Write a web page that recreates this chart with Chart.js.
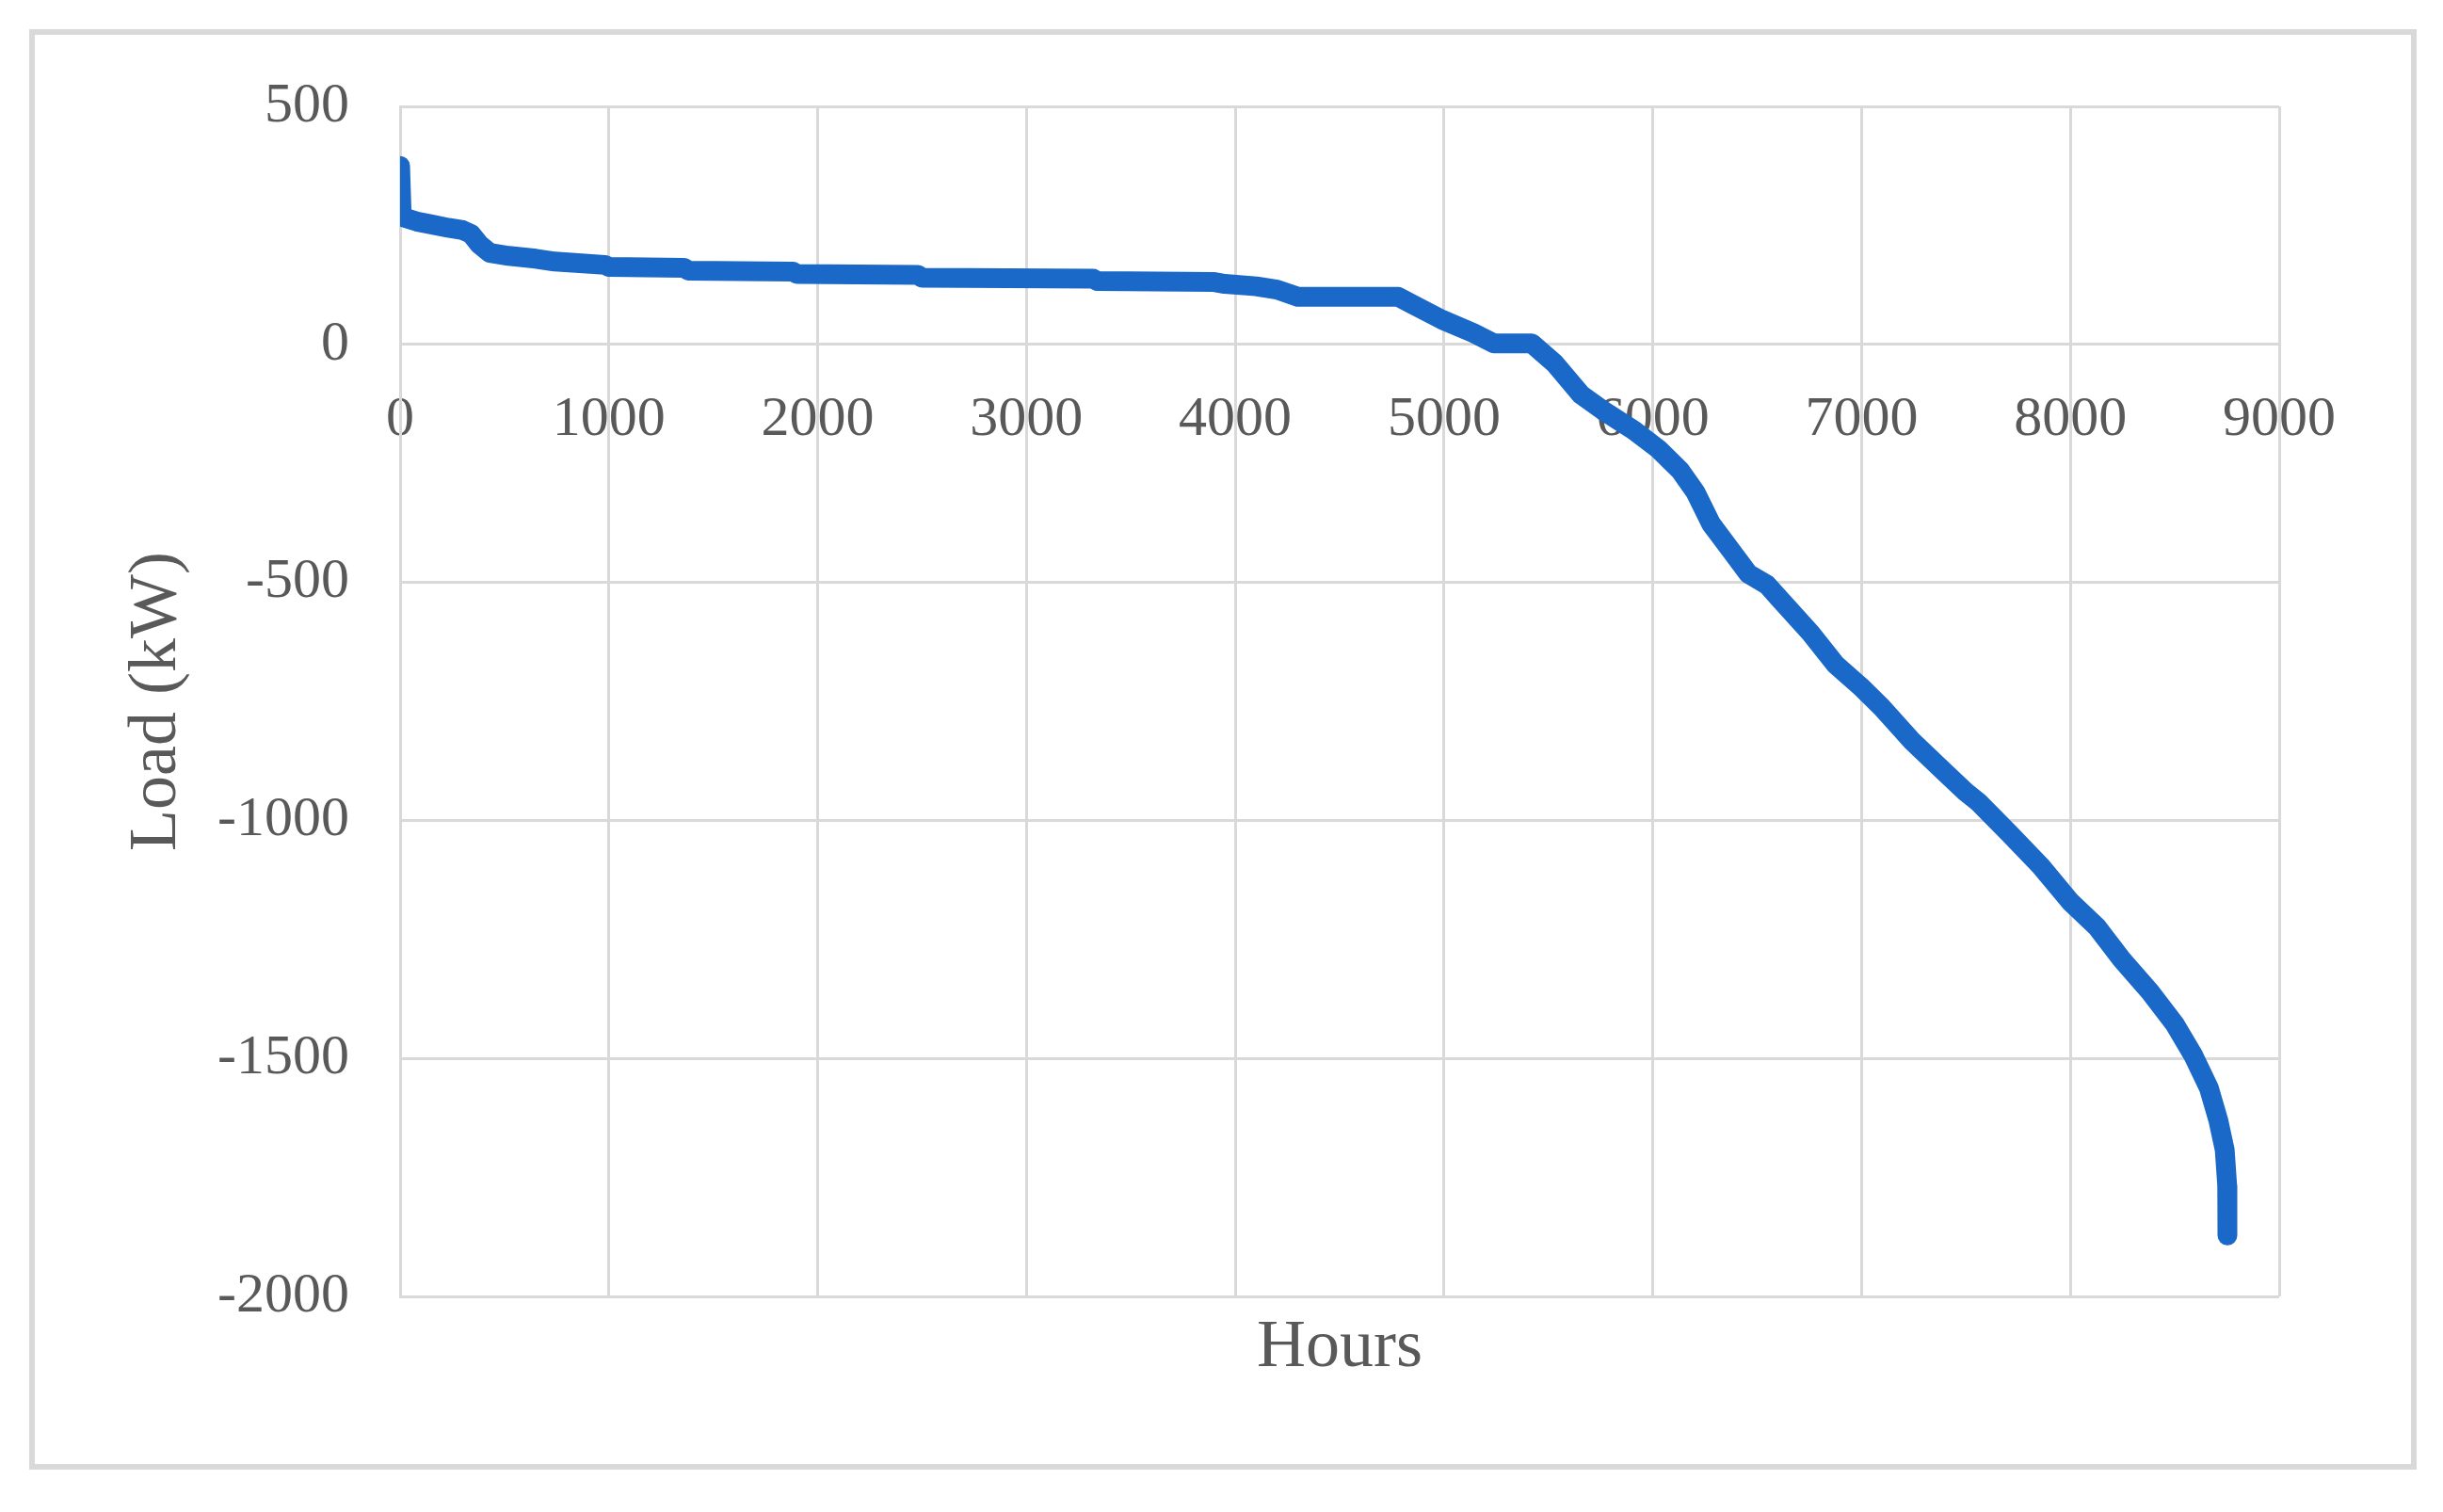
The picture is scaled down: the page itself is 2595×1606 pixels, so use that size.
<!DOCTYPE html>
<html>
<head>
<meta charset="utf-8">
<script src="https://cdn.jsdelivr.net/npm/chart.js@4"></script>
<style>
  html, body { margin: 0; padding: 0; background: #fff; }
  #frame {
    position: absolute; left: 31px; top: 31px;
    width: 2524px; height: 1518px;
    border: 6px solid #d9d9d9;
  }
  #frame canvas { display: block; }
</style>
</head>
<body>
<div id="frame"><canvas id="load-chart" width="2524" height="1518"></canvas></div>
<script>
// load duration curve (hours sorted, kW)
const hours = [
  0, 8, 80, 150, 230, 300, 340, 380, 430, 520, 650, 740, 980, 1000, 1360, 1380,
  1880, 1900, 2480, 2500, 3320, 3340, 3900, 3950, 4100, 4200, 4300, 4780, 4840,
  4990, 5140, 5240, 5420, 5530, 5655, 5759, 5908, 6027, 6131, 6205, 6279, 6368,
  6458, 6547, 6606, 6755, 6874, 6993, 7097, 7245, 7394, 7498, 7560, 7709, 7858,
  8000, 8127, 8246, 8381, 8500, 8590, 8664, 8709, 8739, 8751, 8752
];
const loadKw = [
  375, 268, 258, 252, 245, 240, 232, 210, 192, 186, 180, 174, 167, 163, 161, 155,
  153, 148, 146, 140, 138, 133, 131, 127, 122, 115, 100, 100, 86,
  52, 24, 2, 2, -40, -105, -138, -180, -220, -265, -311, -377, -429,
  -482, -505, -534, -606, -672, -718, -763, -835, -897, -940, -962, -1028, -1096,
  -1171, -1224, -1292, -1360, -1428, -1495, -1563, -1631, -1692, -1767, -1872
];
const xTicks = [0, 1000, 2000, 3000, 4000, 5000, 6000, 7000, 8000, 9000];
const yTicks = [500, 0, -500, -1000, -1500, -2000];

const TEXT = '#595959';
const GRID = '#d9d9d9';
const FONT = 'Liberation Serif';

const points = hours.map((h, i) => ({ x: h, y: loadKw[i] }));

new Chart(document.getElementById('load-chart'), {
  type: 'scatter',
  data: {
    datasets: [{
      label: 'Load',
      data: points,
      showLine: true,
      borderColor: '#1A68C8',
      borderWidth: 21,
      pointRadius: 0,
      tension: 0,
      borderCapStyle: 'round',
      borderJoinStyle: 'round',
    }],
  },
  options: {
    responsive: false,
    animation: false,
    layout: { padding: { left: 0, top: 76, right: 140, bottom: 0 } },
    plugins: { legend: { display: false }, tooltip: { enabled: false } },
    scales: {
      x: {
        type: 'linear',
        position: { y: 0 },
        min: 0, max: 9000,
        afterBuildTicks: (s) => { s.ticks = xTicks.map((v) => ({ value: v })); },
        ticks: { color: TEXT, font: { family: FONT, size: 60 }, padding: 44, maxRotation: 0, callback: (v) => String(v) },
        grid: { color: GRID, lineWidth: 3, drawTicks: false },
        border: { display: true, color: GRID, width: 3 },
      },
      x2: {
        type: 'linear',
        axis: 'x',
        position: 'bottom',
        min: 0, max: 9000,
        ticks: { display: false },
        grid: { display: false, drawTicks: false },
        border: { display: false },
        title: { display: true, text: 'Hours', color: TEXT, font: { family: FONT, size: 72 }, padding: { top: 0, bottom: 80 } },
        afterFit: (s) => { s.height = 178; },
      },
      y: {
        type: 'linear',
        position: 'left',
        min: -2000, max: 500,
        afterBuildTicks: (s) => { s.ticks = yTicks.map((v) => ({ value: v })); },
        ticks: { color: TEXT, font: { family: FONT, size: 60 }, padding: 54, callback: (v) => String(v) },
        grid: { color: GRID, lineWidth: 3, drawTicks: false },
        border: { display: true, color: GRID, width: 3 },
        title: { display: true, text: 'Load (kW)', color: TEXT, font: { family: FONT, size: 72 }, padding: { top: 87, bottom: 0 } },
        afterFit: (s) => { s.width = 388; s.paddingTop = 0; s.paddingBottom = 0; },
      },
    },
  },
});
</script>
</body>
</html>
